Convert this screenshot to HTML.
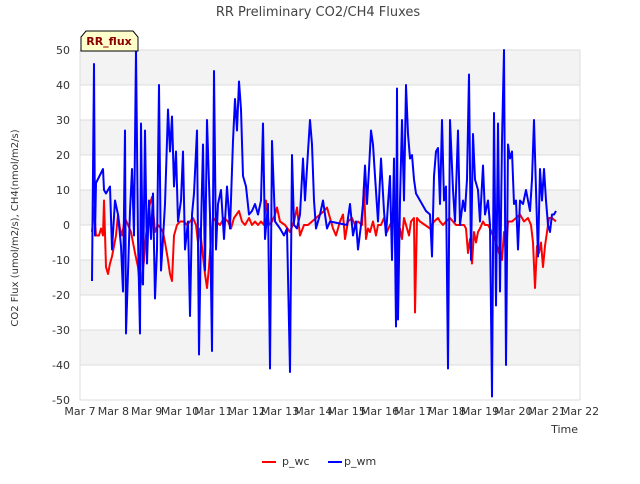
<!DOCTYPE html>
<html><head><meta charset="utf-8"><style>
body{margin:0;background:#fff;font-family:"DejaVu Sans","Liberation Sans",sans-serif;}
svg text{font-family:"DejaVu Sans","Liberation Sans",sans-serif;}
</style></head><body>
<svg id="chart" width="640" height="480" xmlns="http://www.w3.org/2000/svg">
<text x="318" y="16" text-anchor="middle" font-size="13" fill="#444">RR Preliminary CO2/CH4 Fluxes</text>
<g id="bands"></g>
<g id="axes"></g>
<g id="series"></g>
<g>
<path d="M81,51 L81,37 L86,31 L133,31 L138,37 L138,51 Z" fill="#ffffcc" stroke="#000" stroke-width="1"/>
<text x="109" y="45" text-anchor="middle" font-size="11" font-weight="bold" fill="#8b0000">RR_flux</text>
</g>
<text transform="translate(18,228) rotate(-90)" text-anchor="middle" font-size="10" fill="#333">CO2 Flux (umol/m2/s), CH4(nmol/m2/s)</text>
<text x="578" y="433" text-anchor="end" font-size="11" fill="#333">Time</text>
<g>
<g><line x1="262" y1="462" x2="276" y2="462" stroke="#ff0000" stroke-width="2"/><text x="282" y="465" font-size="11" fill="#333">p_wc</text></g>
<g><line x1="328" y1="462" x2="342" y2="462" stroke="#0000ff" stroke-width="2"/><text x="344" y="465" font-size="11" fill="#333">p_wm</text></g>
</g>
</svg>
<script>
const xTickLabels=["Mar 7","Mar 8","Mar 9","Mar 10","Mar 11","Mar 12","Mar 13","Mar 14","Mar 15","Mar 16","Mar 17","Mar 18","Mar 19","Mar 20","Mar 21","Mar 22"];
const yTicks=[50,40,30,20,10,0,-10,-20,-30,-40,-50];
const wmTimes=[.36,.42,.45,.48,.69,.72,.78,.9,.96,1.05,1.14,1.23,1.29,1.35,1.38,1.5,1.56,1.62,1.68,1.74,1.8,1.83,1.89,1.95,2.01,2.07,2.13,2.19,2.25,2.31,2.37,2.43,2.49,2.55,2.64,2.7,2.76,2.82,2.88,2.94,3.03,3.09,3.15,3.24,3.3,3.36,3.42,3.51,3.57,3.63,3.69,3.75,3.81,3.9,3.96,4.02,4.08,4.14,4.23,4.32,4.41,4.5,4.59,4.65,4.71,4.77,4.83,4.89,4.98,5.07,5.16,5.25,5.34,5.43,5.49,5.55,5.64,5.7,5.76,5.85,6.0,6.12,6.21,6.3,6.36,6.42,6.51,6.6,6.69,6.75,6.84,6.9,6.96,7.02,7.08,7.2,7.29,7.41,7.5,8.01,8.1,8.19,8.28,8.34,8.43,8.49,8.55,8.61,8.67,8.73,8.79,8.85,8.94,9.03,9.12,9.18,9.24,9.3,9.36,9.42,9.48,9.51,9.54,9.6,9.66,9.72,9.78,9.84,9.9,9.96,10.02,10.08,10.2,10.38,10.5,10.56,10.62,10.68,10.74,10.8,10.86,10.92,10.98,11.04,11.1,11.19,11.25,11.34,11.4,11.49,11.55,11.61,11.67,11.73,11.79,11.85,11.94,12.0,12.09,12.15,12.24,12.3,12.36,12.42,12.48,12.54,12.6,12.66,12.72,12.78,12.84,12.9,12.96,13.02,13.08,13.14,13.2,13.29,13.38,13.5,13.56,13.62,13.68,13.74,13.8,13.86,13.92,13.98,14.04,14.1,14.16,14.22,14.28];
const wmValues=[-16,46,-3,12,16,10,9,11,-7,7,3,-6,-19,27,-31,4,16,-3,50,-4,-31,29,-17,27,-11,7,-4,9,-21,-7,40,-13,-4,6,33,21,31,11,21,1,7,21,-7,1,-26,3,9,27,-37,-1,23,-13,30,3,-36,44,-7,6,10,-4,11,-1,24,36,27,41,33,14,11,3,4,6,3,7,29,-4,6,-41,24,1,-1,-3,-1,-42,20,0,-1,3,19,7,21,30,23,7,-1,3,7,-1,1,0,6,-3,1,-7,0,6,17,6,16,27,23,14,1,19,4,-3,6,14,-10,19,-29,39,-27,7,30,7,40,26,19,20,13,9,7,4,3,-9,14,21,22,6,30,7,11,-41,30,10,1,27,0,7,4,13,43,-10,26,13,10,1,17,3,7,0,-49,32,-23,29,-19,24,50,-40,23,19,21,6,7,-7,7,6,10,4,13,30,10,-9,16,7,16,7,0,-2,3,3,4];
const wcTimes=[.36,.42,.48,.57,.63,.69,.72,.78,.84,.9,.96,1.02,1.08,1.14,1.2,1.26,1.35,1.44,1.53,1.65,1.74,1.8,1.86,1.92,1.98,2.07,2.16,2.25,2.34,2.43,2.49,2.55,2.64,2.7,2.76,2.82,2.91,3.0,3.12,3.21,3.3,3.39,3.48,3.54,3.6,3.69,3.75,3.81,3.87,3.93,3.99,4.08,4.2,4.32,4.44,4.53,4.62,4.77,4.86,4.95,5.07,5.16,5.25,5.34,5.43,5.52,5.58,5.67,5.76,5.85,5.91,6.0,6.15,6.3,6.42,6.51,6.6,6.72,6.84,6.96,7.08,7.2,7.32,7.41,7.5,7.59,7.68,7.8,7.89,7.95,8.04,8.16,8.25,8.34,8.46,8.52,8.58,8.64,8.7,8.79,8.88,8.94,9.03,9.12,9.21,9.3,9.42,9.51,9.6,9.66,9.72,9.78,9.87,9.93,10.02,10.05,10.11,10.2,10.35,10.5,10.62,10.74,10.8,10.89,10.98,11.1,11.19,11.28,11.4,11.52,11.58,11.64,11.7,11.76,11.82,11.88,11.94,12.0,12.09,12.15,12.24,12.3,12.39,12.48,12.57,12.66,12.72,12.78,12.84,12.96,13.08,13.2,13.32,13.44,13.53,13.59,13.65,13.71,13.77,13.83,13.89,13.95,14.01,14.07,14.16,14.28];
const wcValues=[-2,5,-3,-3,-1,-3,7,-12,-14,-11,-9,-6,-3,3,-1,-3,2,0,-2,-8,-12,-18,-15,-10,-3,5,8,-2,0,-1,-2,-5,-10,-14,-16,-3,0,1,1,0,1,2,0,-5,-1,-9,-14,-18,-12,-4,2,1,0,2,1,-1,2,4,1,0,2,0,1,0,1,0,7,0,1,3,5,1,0,-2,1,5,-3,0,0,1,2,3,4,5,2,-1,-3,1,3,-4,1,2,0,1,0,11,-4,-1,-2,1,-3,0,0,2,-2,0,2,-2,-1,-4,2,0,-3,1,2,-25,2,1,0,-1,1,2,1,0,1,2,1,0,0,0,-1,-8,-4,-11,-2,-5,-2,-1,1,0,0,-1,-3,-5,-8,-10,-2,-8,1,1,2,3,1,2,0,-5,-18,-6,-8,-5,-12,-6,-2,2,2,1];
const L=80,R=580,T=50,B=400;
const xS=t=>L+t*(R-L)/15;
const yS=v=>T+(50-v)*(B-T)/100;
const NS="http://www.w3.org/2000/svg";
function mk(tag,attrs,parent){const e=document.createElementNS(NS,tag);for(const k in attrs)e.setAttribute(k,attrs[k]);parent.appendChild(e);return e;}
const bands=document.getElementById('bands'),axes=document.getElementById('axes'),series=document.getElementById('series');
for(let i=0;i<yTicks.length-1;i++){
 const r=mk('rect',{x:L,y:yS(yTicks[i]),width:R-L,height:yS(yTicks[i+1])-yS(yTicks[i]),fill:i%2===0?'#f3f3f3':'#ffffff'},bands);
 
 
}
yTicks.forEach(v=>{
 const g=mk('line',{x1:L,x2:R,y1:yS(v),y2:yS(v),stroke:'#dddddd','stroke-width':1},axes);
 
 
 const t=mk('text',{x:L-10,y:yS(v)+4,'text-anchor':'end','font-size':11,fill:'#333'},axes);
 t.textContent=v;
 
 
});
mk('line',{x1:L,x2:L,y1:T,y2:B,stroke:'#dddddd'},axes);
mk('line',{x1:R,x2:R,y1:T,y2:B,stroke:'#dddddd'},axes);
xTickLabels.forEach((s,i)=>{
 const t=mk('text',{x:xS(i),y:B+15,'text-anchor':'middle','font-size':11,fill:'#333'},axes);
 t.textContent=s;
 
 
});
function line(ts,vs,color,name){
 const d=ts.map((t,i)=>(i?'L':'M')+xS(t).toFixed(1)+','+yS(vs[i]).toFixed(1)).join(' ');
 const p=mk('path',{d:d,fill:'none',stroke:color,'stroke-width':2,'stroke-linejoin':'round'},series);
 
 
}
line(wcTimes,wcValues,'#ff0000','series-p-wc');
line(wmTimes,wmValues,'#0000ff','series-p-wm');
</script>
</body></html>
